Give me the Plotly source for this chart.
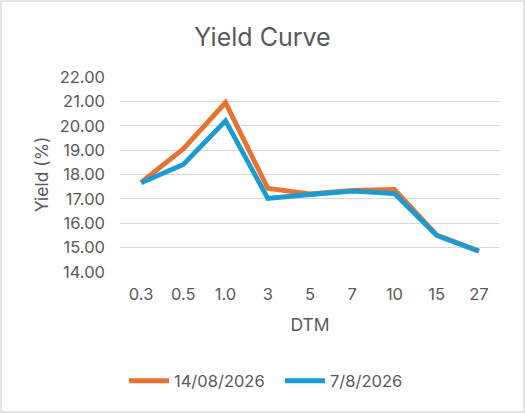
import plotly.graph_objects as go

# maturities (years) and yields
dtm = ["0.3", "0.5", "1.0", "3", "5", "7", "10", "15", "27"]
yield_aug14 = [17.68, 19.05, 20.95, 17.43, 17.2, 17.35, 17.39, 15.52, 14.86]
yield_aug07 = [17.66, 18.41, 20.2, 17.02, 17.18, 17.32, 17.22, 15.5, 14.85]

ORANGE = "#E97132"
BLUE = "#1A9BD3"
GREY = "#595959"
FONT = "Inter, Open Sans, sans-serif"

L, R, T, B = 120, 25, 77, 141
W, H = 525, 413
pw, ph = W - L - R, H - T - B

fig = go.Figure()
fig.add_trace(go.Scatter(x=dtm, y=yield_aug14, mode="lines", name="14/08/2026",
                         line=dict(color=ORANGE, width=4.8)))
fig.add_trace(go.Scatter(x=dtm, y=yield_aug07, mode="lines", name="7/8/2026",
                         line=dict(color=BLUE, width=4.8)))

fig.update_layout(
    width=W, height=H,
    margin=dict(l=L, r=R, t=T, b=B),
    paper_bgcolor="white", plot_bgcolor="white",
    font=dict(family=FONT, color=GREY, size=16),
    title=dict(text="Yield Curve", x=0.5, xanchor="center", y=1 - 37 / H,
               yanchor="middle", font=dict(size=25, color=GREY)),
    legend=dict(orientation="h", x=(280 - L) / pw, xanchor="center",
                y=(T + ph - 381) / ph, yanchor="middle",
                font=dict(size=16.5, color=GREY), itemwidth=40,
                entrywidth=101, entrywidthmode="pixels"),
    showlegend=True,
)
fig.update_xaxes(type="category", range=[-0.5, 8.5], showgrid=False,
                 showline=False, ticks="", tickfont=dict(size=16.5, color=GREY),
                 ticklabelstandoff=10,
                 title=dict(text="DTM", font=dict(size=17.5, color=GREY), standoff=16))
fig.update_yaxes(range=[14, 22], dtick=1, tickformat=".2f", showgrid=True,
                 gridcolor="#D9D9D9", gridwidth=1.2, zeroline=False, showline=False,
                 ticks="", tickfont=dict(size=16.5, color=GREY), ticklabelstandoff=14,
                 title=dict(text="Yield (%)", font=dict(size=17.5, color=GREY), standoff=6))

# chart outline
fig.add_shape(type="rect", xref="paper", yref="paper",
              x0=-(L - 1) / pw, x1=1 + (R - 1) / pw,
              y0=-(B - 1) / ph, y1=1 + (T - 1) / ph,
              line=dict(color="#D9D9D9", width=1.3))

fig.write_html("out.html", config={"displayModeBar": False},
               post_script="document.body.style.margin='0';")
